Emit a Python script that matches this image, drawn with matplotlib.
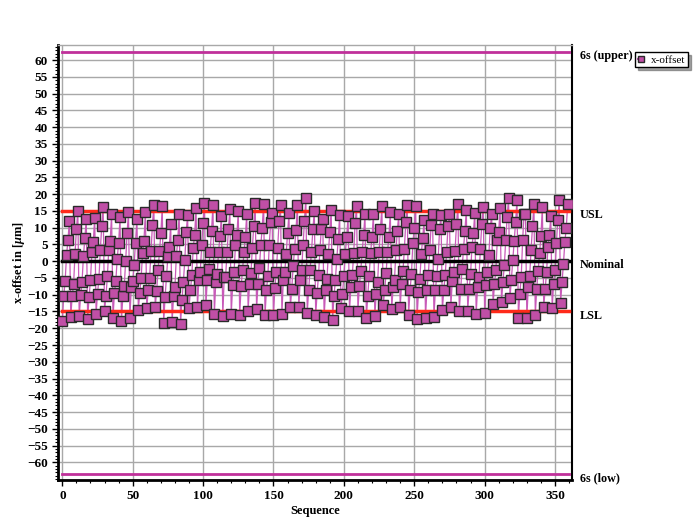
import numpy as np
import matplotlib
matplotlib.use("Agg")
import matplotlib.pyplot as plt
from matplotlib.ticker import MultipleLocator
from matplotlib.lines import Line2D

# Six measurement positions per cycle, 60 cycles (values in micrometres)
pos_bottom = [-17.8, -16.6, -16.4, -17.2, -15.6, -14.8, -17.0, -17.8, -16.8, -14.6, -14.1, -13.6, -18.4, -18.2, -18.6,
              -14.1, -13.6, -13.1, -15.8, -16.4, -15.8, -16.1, -14.8, -14.4, -16.1, -16.1, -15.8, -13.8, -13.6, -15.4,
              -16.1, -16.6, -17.4, -14.1, -14.8, -14.8, -16.8, -16.4, -13.1, -14.4, -13.6, -16.1, -17.1, -16.8, -16.5,
              -14.6, -13.8, -14.8, -14.8, -15.8, -15.4, -12.8, -12.1, -11.1, -16.8, -16.8, -16.1, -13.6, -14.1, -12.4]
pos_lower = [-10.5, -10.5, -10.2, -10.7, -9.7, -10.5, -9.5, -10.5, -7.7, -9.5, -8.7, -8.9, -10.7, -10.5, -11.6,
             -8.7, -5.7, -5.5, -6.2, -4.7, -7.2, -7.5, -6.9, -6.7, -8.5, -7.9, -5.5, -8.2, -5.7,
             -8.5, -9.5, -8.7, -10.5, -9.7, -7.7, -7.5, -10.5, -9.7, -8.7, -7.7, -6.9, -8.7, -9.2, -8.7,
             -8.7, -8.5, -5.9, -8.2, -8.2, -7.7, -7.2, -6.9, -6.2, -5.5, -9.7, -7.7, -8.2, -8.2, -6.7, -6.2]
pos_below = [-5.9, -6.9, -6.2, -5.5, -5.2, -4.5, -5.9, -7.3, -5.9, -4.9, -4.9, -2.7, -4.5, -7.7, -6.2,
             -4.2, -3.2, -2.2, -3.7, -4.7, -3.2, -2.5, -3.5, -1.9, -4.5, -3.2, -3.2, -1.5, -2.7,
             -2.5, -4.2, -5.2, -5.5, -4.5, -4.2, -2.9, -4.5, -6.2, -3.5, -5.5, -2.9, -3.9, -5.2, -4.2,
             -4.5, -4.2, -3.2, -2.2, -3.9, -4.7, -3.2, -2.7, -1.2, 0.3, -4.7, -4.5, -2.9, -3.2, -2.7, -0.7]
pos_above = [1.8, 2.1, 1.5, 2.7, 3.5, 3.5, 0.8, 0.1, -1.2, 2.5, 3.1, 3.0, 1.5, 1.5, 0.3,
             4.1, 4.8, 2.8, 2.8, 2.8, 4.8, 2.8, 4.1, 4.8, 4.8, 4.1, 2.1, 3.8, 4.8,
             2.8, 3.5, 2.3, 0.8, 2.3, 2.5, 2.8, 2.5, 2.8, 2.8, 3.5, 3.8, 5.3, 2.1, 3.5,
             0.8, 2.8, 3.1, 3.8, 4.3, 3.8, 1.8, 6.3, 6.3, 6.1, 6.3, 3.5, 2.5, 4.3, 5.5, 5.8]
pos_second = [6.3, 9.5, 6.8, 5.8, 10.4, 6.1, 5.5, 8.3, 5.5, 6.1, 10.7, 8.3, 4.3, 6.3, 8.8,
              7.8, 11.4, 9.1, 7.5, 9.5, 7.8, 7.3, 10.4, 10.0, 11.7, 12.0, 8.5, 9.3, 12.0,
              9.5, 9.7, 8.8, 6.5, 7.3, 11.4, 7.8, 7.3, 9.7, 7.3, 9.1, 11.7, 10.0, 6.8, 10.7,
              9.5, 10.4, 11.0, 9.1, 8.3, 11.2, 10.0, 8.8, 13.2, 11.7, 14.0, 10.4, 7.5, 7.8, 12.4, 10.0]
pos_top = [12.0, 15.0, 12.7, 13.0, 16.2, 14.0, 13.2, 14.7, 12.7, 14.7, 16.9, 16.4, 11.2, 14.2, 13.7,
           16.0, 17.4, 16.7, 13.4, 15.7, 15.0, 14.0, 17.4, 17.2, 14.4, 16.7, 14.4, 16.7, 19.0,
           15.0, 12.7, 15.4, 13.7, 13.4, 16.4, 14.0, 14.0, 16.4, 14.7, 14.0, 16.7, 16.4, 12.2, 14.0,
           13.7, 14.0, 17.2, 15.4, 14.4, 16.2, 14.0, 16.0, 19.0, 18.4, 14.0, 17.0, 16.2, 13.4, 18.2, 17.0]

limit_names = ["6s (upper)", "USL", "Nominal", "LSL", "6s (low)"]
limit_values = [62.5, 15.0, 0.0, -15.0, -63.5]
limit_colors = ["#c0309a", "#ff2a1a", "#000000", "#ff2a1a", "#c0309a"]
limit_widths = [2.0, 2.5, 2.5, 2.5, 2.0]

x_ticks = [0, 50, 100, 150, 200, 250, 300, 350]
y_ticks = list(range(-60, 61, 5))

# interleave: each cycle visits bottom -> lower -> below -> above -> second -> top
offset = np.column_stack([pos_bottom, pos_lower, pos_below, pos_above, pos_second, pos_top]).ravel()
seq = np.arange(len(offset))

serif = ["Liberation Serif", "DejaVu Serif"]
plt.rcParams["font.family"] = serif
plt.rcParams["mathtext.fontset"] = "custom"
plt.rcParams["mathtext.it"] = "Liberation Serif:italic:bold"
plt.rcParams["mathtext.rm"] = "Liberation Serif:bold"

fig = plt.figure(figsize=(7.0, 5.31), dpi=100)
ax = fig.add_axes([0.083, 0.096, 0.734, 0.819])

ax.set_xlim(-3, 362)
ax.set_ylim(-65.3, 64.5)

ax.xaxis.set_minor_locator(MultipleLocator(10))
ax.yaxis.set_minor_locator(MultipleLocator(1))
ax.set_xticks(x_ticks)
ax.set_yticks(y_ticks)
ax.grid(True, which="major", color="#a8a8a8", linewidth=1.0)
ax.set_axisbelow(True)

ax.plot(seq, offset, color="#c85ab8", linewidth=0.9, zorder=3)

for v, c, w in zip(limit_values, limit_colors, limit_widths):
    ax.plot([0, 360], [v, v], color=c, linewidth=w, zorder=3.5)

ax.plot(seq, offset, linestyle="none", marker="s", markersize=6.6,
        markerfacecolor="#c04fa6", markeredgecolor="#2a2a2a", markeredgewidth=1.0, zorder=4)

for name, v in zip(limit_names, limit_values):
    ax.annotate(name, xy=(1.0, v), xycoords=("axes fraction", "data"),
                xytext=(5.5, -3), textcoords="offset points", va="center", ha="left",
                fontsize=8.7, fontweight="bold")

for s in ["left", "bottom"]:
    ax.spines[s].set_linewidth(2.0)
    ax.spines[s].set_color("black")
ax.spines["right"].set_linewidth(1.5)
ax.spines["right"].set_color("black")
ax.spines["top"].set_linewidth(1.0)
ax.spines["top"].set_color("#a8a8a8")

ax.tick_params(axis="both", which="major", labelsize=9.5, length=4, width=1, direction="out")
ax.tick_params(axis="both", which="minor", length=2, width=0.8, direction="out")
for lab in ax.get_xticklabels() + ax.get_yticklabels():
    lab.set_fontweight("bold")

ax.set_xlabel("Sequence", fontsize=9, fontweight="bold", labelpad=2)
ax.set_ylabel(r"x-offset in [$\mu$m]", fontsize=9, fontweight="bold", labelpad=0)

handle = Line2D([], [], linestyle="-", color="#c040b0", marker="s", markersize=4.5,
                markerfacecolor="#c04fa6", markeredgecolor="#2a2a2a")
leg = fig.legend([handle], ["x-offset"], loc="upper left", bbox_to_anchor=(0.907, 0.902),
                 borderaxespad=0.0, fontsize=8, frameon=True, fancybox=False, shadow=True,
                 handlelength=0.6, handletextpad=0.6, borderpad=0.25)
leg.get_frame().set_edgecolor("black")
leg.get_frame().set_linewidth(1.0)

fig.savefig("out.png", dpi=100, facecolor="white")
